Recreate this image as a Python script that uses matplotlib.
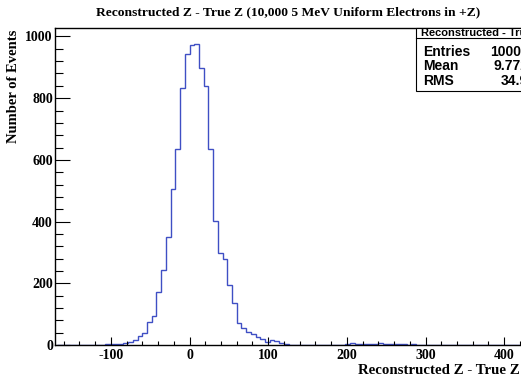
import numpy as np
import matplotlib
matplotlib.use("Agg")
import matplotlib.pyplot as plt
from matplotlib.patches import Rectangle
from matplotlib.lines import Line2D
from matplotlib.ticker import MultipleLocator

# histogram: 6-unit bins, lower edge of first bin at -168
bin_edges = np.arange(-168, 427, 6)
counts = [0, 0, 0, 0, 0, 0, 0,
          1, 1, 1, 2, 2, 3, 4, 7, 11, 15, 28, 40, 75, 94, 172, 243, 350, 505, 636, 833, 944,
          973, 976, 897, 839, 636, 402, 299, 278, 194, 137, 72, 54, 43, 36, 27, 19, 9, 16, 13, 7, 2,
          1,
          0, 0, 0, 0, 0, 0, 0, 0,
          1, 1, 1, 2, 5, 4, 3, 3, 3, 3, 5, 3, 2, 3, 2, 3, 1, 2,
          0, 0, 0, 0, 0, 0, 0, 0, 0,
          1,
          0, 0, 0, 0, 0, 0, 0, 0, 0, 0, 0, 0, 0]

stat_names = ["Entries", "Mean", "RMS"]
stat_values = ["10000", "9.772", "34.95"]

plt.rcParams["axes.unicode_minus"] = False

W, H = 521, 381
fig = plt.figure(figsize=(W / 100, H / 100), dpi=100)

serif = "Liberation Serif"
sans = "Liberation Sans"

# axes box in pixels: left 55, right 527 (past the edge), top 27.5, bottom 345
ax = fig.add_axes([55 / W, (H - 345) / H, 472 / W, 317.5 / H])
ax.stairs(counts, bin_edges, color="#3f4fc4", linewidth=1.0, baseline=None, zorder=1)
ax.set_xlim(-171, 429)
ax.set_ylim(0, 1029)

ax.xaxis.set_major_locator(MultipleLocator(100))
ax.xaxis.set_minor_locator(MultipleLocator(20))
ax.yaxis.set_major_locator(MultipleLocator(200))
ax.yaxis.set_minor_locator(MultipleLocator(40))
ax.tick_params(axis="x", which="major", direction="in", length=6, width=0.8, pad=3)
ax.tick_params(axis="x", which="minor", direction="in", length=3, width=0.8)
ax.tick_params(axis="y", which="major", direction="in", length=11, width=0.8, pad=1.5)
ax.tick_params(axis="y", which="minor", direction="in", length=5.5, width=0.8)
for lab in ax.get_xticklabels() + ax.get_yticklabels():
    lab.set_fontfamily(serif)
    lab.set_fontweight("bold")
    lab.set_fontsize(10)
for s in ax.spines.values():
    s.set_linewidth(1.0)
    s.set_zorder(3)

fig.text(288 / W, 1 - 12 / H, "Reconstructed Z - True Z (10,000 5 MeV Uniform Electrons in +Z)",
         ha="center", va="center", family=serif, weight="bold", fontsize=9.7)
fig.text(14 / W, 1 - 86 / H, "Number of Events", rotation=90, ha="center", va="center",
         family=serif, weight="bold", fontsize=10.5)
fig.text(520 / W, 1 - 370 / H, "Reconstructed Z - True Z", ha="right", va="center",
         family=serif, weight="bold", fontsize=10.7)

# stats box
box_l, box_t, box_b, sep = 416, 27.5, 91, 38.3
fig.patches.append(Rectangle((box_l / W, 1 - box_b / H), 200 / W, (box_b - box_t) / H,
                             transform=fig.transFigure, facecolor="white",
                             edgecolor="black", linewidth=0.8, zorder=5))
fig.lines.append(Line2D([box_l / W, 1.2], [1 - sep / H, 1 - sep / H],
                        transform=fig.transFigure, color="black", linewidth=0.8, zorder=6))
fig.text(421 / W, 1 - 33 / H, "Reconstructed - True Z", ha="left", va="center",
         family=sans, weight="bold", fontsize=8, zorder=7)
rows_y = [52, 66.5, 81]
val_x = [490, 494, 501]
for name, val, yy, vx in zip(stat_names, stat_values, rows_y, val_x):
    fig.text(423 / W, 1 - yy / H, name, ha="left", va="center", family=sans,
             weight="bold", fontsize=10, zorder=7)
    fig.text(vx / W, 1 - yy / H, val, ha="left", va="center", family=sans,
             weight="bold", fontsize=10, zorder=7)

fig.savefig("out.png", dpi=100)
